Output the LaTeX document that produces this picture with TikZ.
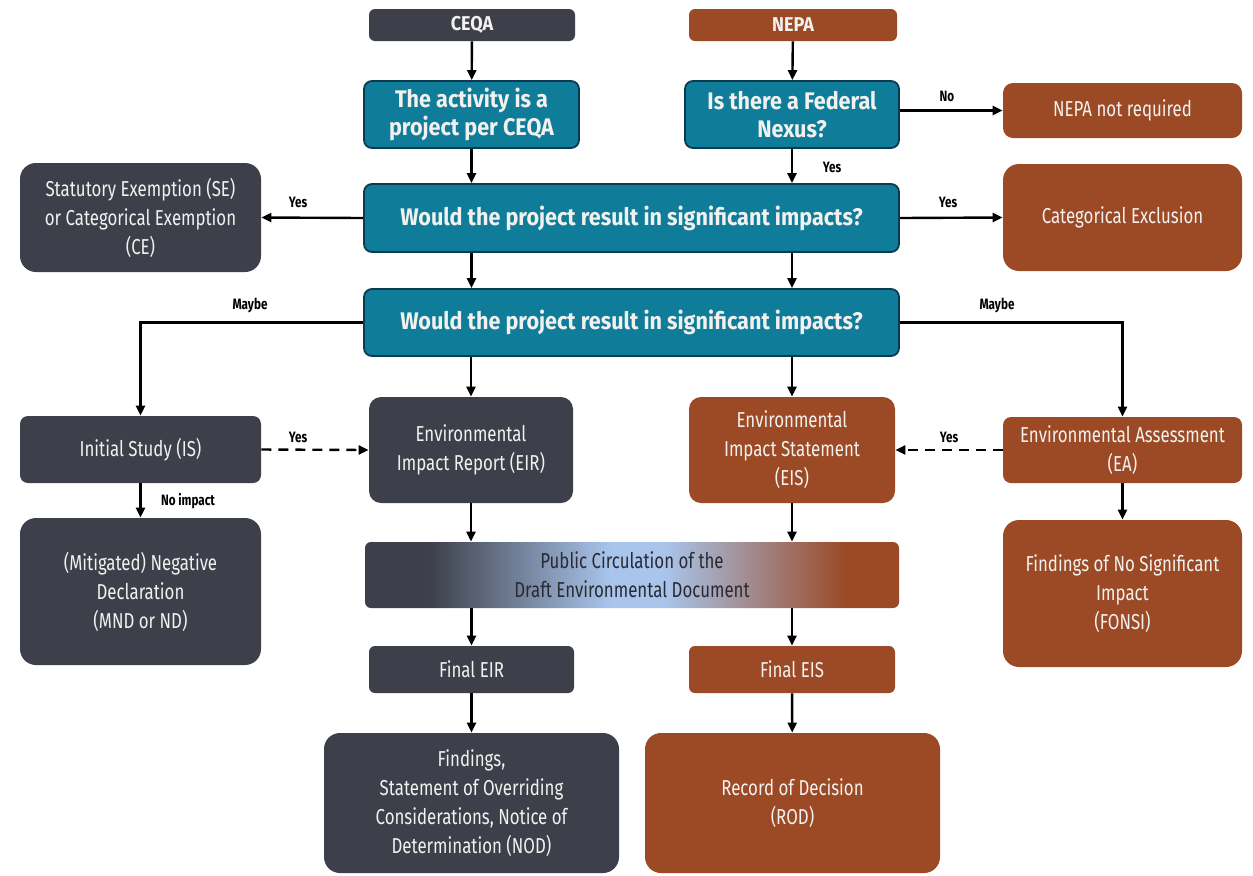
\documentclass[tikz,border=0pt]{standalone}
\usepackage{fontspec}
\setmainfont{Fira Sans}[FakeStretch=0.78]
\newfontfamily\headfont{Fira Sans}[FakeStretch=0.9]
\usetikzlibrary{arrows.meta}
\definecolor{slate}{HTML}{3D3F4A}
\definecolor{rust}{HTML}{9B4A25}
\definecolor{teal0}{HTML}{0F7D99}
\definecolor{tealb}{HTML}{0B3B4C}
\definecolor{boxtext}{HTML}{F3F1EF}
\definecolor{paleblue}{HTML}{A9C5EC}
\definecolor{pubtext}{HTML}{2A2A32}
\pgfdeclarehorizontalshading{pubshade}{100bp}{color(0bp)=(slate); color(31bp)=(slate); color(48bp)=(paleblue); color(53bp)=(paleblue); color(70bp)=(rust); color(100bp)=(rust)}
\begin{document}
\begin{tikzpicture}[x=0.5pt,y=-0.5pt,
  box/.style={rounded corners=3pt, text=boxtext, align=center, inner sep=2pt, font=\fontsize{10.8}{14.5}\selectfont},
  gbox/.style={box, fill=slate},
  bbox/.style={box, fill=rust},
  tbox/.style={box, fill=teal0, draw=tealb, line width=0.9pt, rounded corners=4pt, font=\headfont\bfseries\fontsize{12}{14}\selectfont},
  head/.style={font=\headfont\bfseries\fontsize{10}{11}\selectfont},
  big/.style={rounded corners=8pt},
  sz/.style 2 args={minimum width=#1*0.5pt, minimum height=#2*0.5pt},
  arr/.style={line width=1.2pt, -{Triangle[length=5pt,width=4.5pt]}},
  dash arr/.style={arr, dash pattern=on 5pt off 3.5pt},
  lbl/.style={font=\bfseries\fontsize{7.5}{9}\selectfont, text=black, inner sep=0pt}
]
\useasboundingbox[fill=white] (0,0) rectangle (1253,875);

% top row
\node[gbox, head, sz={206}{32}] (ceqa) at (472,25) {CEQA};
\node[bbox, head, sz={208}{32}] (nepa) at (793,25) {NEPA};

\node[tbox, sz={215}{67}] (act) at (471.5,114.5) {The activity is a\\project per CEQA};
\node[tbox, sz={214}{67}] (nexus) at (792,114.5) {Is there a Federal\\Nexus?};
\node[bbox, sz={239}{55}, rounded corners=5pt] (notreq) at (1122.5,110.5) {NEPA not required};

\node[tbox, sz={535}{68}] (q1) at (631.5,218) {Would the project result in significant impacts?};
\node[gbox, big, sz={241}{109}] (se) at (140.5,217.5) {Statutory Exemption (SE)\\or Categorical Exemption\\(CE)};
\node[bbox, big, sz={239}{107}] (catex) at (1122.5,217.5) {Categorical Exclusion};

\node[tbox, sz={535}{67}] (q2) at (631.5,322.5) {Would the project result in significant impacts?};

\node[gbox, sz={241}{67}, rounded corners=4pt] (is) at (140.5,449.5) {Initial Study (IS)};
\node[gbox, sz={204}{106}, rounded corners=6pt] (eir) at (471,450) {Environmental\\Impact Report (EIR)};
\node[bbox, sz={206}{106}, rounded corners=6pt] (eis) at (792,450) {Environmental\\Impact Statement\\(EIS)};
\node[bbox, sz={239}{66}, rounded corners=4pt] (ea) at (1122.5,450) {Environmental Assessment\\(EA)};

\node[gbox, big, sz={241}{147}] (mnd) at (140.5,591.5) {(Mitigated) Negative\\Declaration\\(MND or ND)};
\node[box, sz={534}{66}, shading=pubshade, text=pubtext] (pub) at (632,575) {Public Circulation of the\\Draft Environmental Document};
\node[bbox, big, sz={239}{147}] (fonsi) at (1122.5,593.5) {Findings of No Significant\\Impact\\(FONSI)};

\node[gbox, sz={205}{47}] (feir) at (471.5,669.5) {Final EIR};
\node[bbox, sz={206}{47}] (feis) at (792,669.5) {Final EIS};

\node[gbox, big, sz={295}{140}] (find) at (471.5,803) {Findings,\\Statement of Overriding\\Considerations, Notice of\\Determination (NOD)};
\node[bbox, big, sz={295}{140}] (rod) at (792.5,803) {Record of Decision\\(ROD)};

% connectors
\draw[arr] (ceqa) -- (act);
\draw[arr] (nepa) -- (nexus);
\draw[arr] (nexus.east |- notreq) -- (notreq.west);
\draw[arr] (act.south) -- (act.south |- q1.north);
\draw[arr] (nexus.south) -- (nexus.south |- q1.north);
\draw[arr] (q1.west) -- (se.east);
\draw[arr] (q1.east) -- (catex.west);
\draw[arr] (q1.south -| act) -- (q2.north -| act);
\draw[arr] (q1.south -| nexus) -- (q2.north -| nexus);
\draw[arr] (q2.west) -| (is.north);
\draw[arr] (q2.east) -| (ea.north);
\draw[arr] (q2.south -| eir) -- (eir.north);
\draw[arr] (q2.south -| eis) -- (eis.north);
\draw[dash arr] (is.east) -- (eir.west);
\draw[dash arr] (ea.west) -- (eis.east);
\draw[arr] (is.south) -- (mnd.north);
\draw[arr] (ea.south) -- (fonsi.north);
\draw[arr] (eir.south) -- (eir.south |- pub.north);
\draw[arr] (eis.south) -- (eis.south |- pub.north);
\draw[arr] (pub.south -| feir) -- (feir.north);
\draw[arr] (pub.south -| feis) -- (feis.north);
\draw[arr] (feir) -- (find);
\draw[arr] (feis) -- (rod);

% labels
\node[lbl] (l1) at (947,96) {No};
\node[lbl] (l2) at (832,167) {Yes};
\node[lbl] (l3) at (298,202) {Yes};
\node[lbl] (l4) at (948,202) {Yes};
\node[lbl] (l5) at (250,305) {Maybe};
\node[lbl] (l6) at (997,305) {Maybe};
\node[lbl] (l7) at (298,437) {Yes};
\node[lbl] (l8) at (949,437) {Yes};
\node[lbl] (l9) at (188,501) {No impact};
\end{tikzpicture}
\end{document}
